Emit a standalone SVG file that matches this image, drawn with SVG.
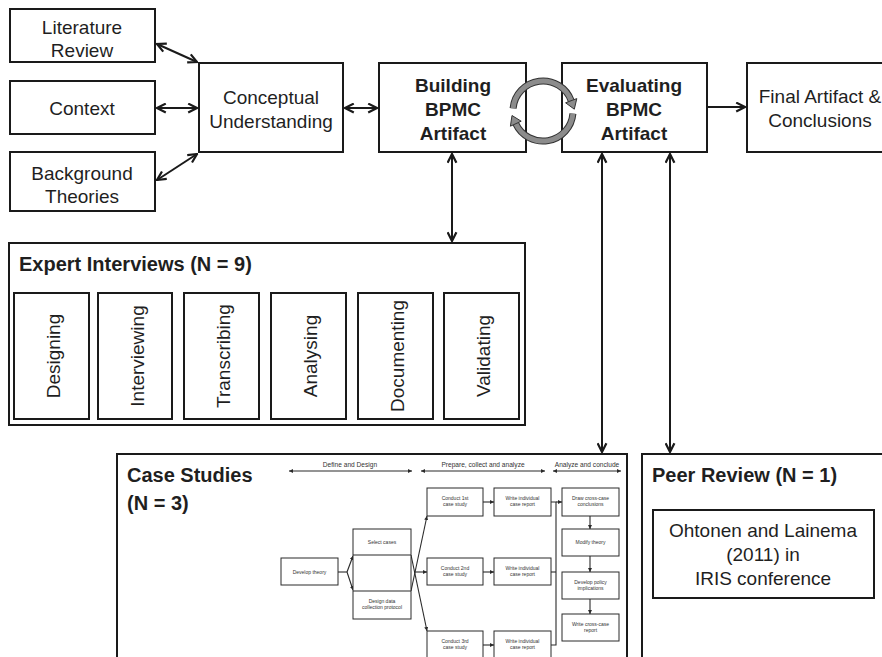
<svg xmlns="http://www.w3.org/2000/svg" width="882" height="657" viewBox="0 0 882 657">
  <defs>
    <style>
      .box { fill: #ffffff; stroke: #1a1a1a; stroke-width: 2; }
      .lbl { font-family: "Liberation Sans", Arial, sans-serif; font-size: 19px; fill: #1f1f1f; text-anchor: middle; }
      .bold { font-weight: bold; }
      .title { font-family: "Liberation Sans", Arial, sans-serif; font-size: 20px; font-weight: bold; fill: #1f1f1f; }
      .conn { fill: none; stroke: #1a1a1a; stroke-width: 2; }
      .sbox { fill: #ffffff; stroke: #2a2a2a; stroke-width: 1; }
      .sline { fill: none; stroke: #2a2a2a; stroke-width: 1.1; }
      .tiny { font-family: "Liberation Sans", Arial, sans-serif; font-size: 5px; fill: #333333; text-anchor: middle; }
      .hdr { font-family: "Liberation Sans", Arial, sans-serif; font-size: 6.6px; fill: #333333; text-anchor: middle; }
      .cyc-edge { fill: none; stroke: #333333; stroke-width: 7; }
      .cyc-fill { fill: none; stroke: #8c8c8c; stroke-width: 5; }
      .cyc-head { fill: #8c8c8c; stroke: #333333; stroke-width: 1; stroke-linejoin: miter; }
    </style>
    <marker id="head" viewBox="0 0 10 10" refX="9" refY="5" markerWidth="11" markerHeight="11" markerUnits="userSpaceOnUse" orient="auto-start-reverse">
      <path d="M1,1 L9,5 L1,9" fill="none" stroke="#1a1a1a" stroke-width="2"/>
    </marker>
    <marker id="shead" viewBox="0 0 6 6" refX="6" refY="3" markerWidth="4" markerHeight="4" markerUnits="userSpaceOnUse" orient="auto-start-reverse">
      <path d="M0,0 L6,3 L0,6 z" fill="#2a2a2a"/>
    </marker>
  </defs>

  <rect width="882" height="657" fill="#ffffff"/>

  <!-- connectors between the main blocks -->
  <g id="connectors">
    <line class="conn" x1="157" y1="44" x2="197" y2="62" marker-start="url(#head)" marker-end="url(#head)"/>
    <line class="conn" x1="157" y1="108" x2="197" y2="108" marker-start="url(#head)" marker-end="url(#head)"/>
    <line class="conn" x1="157" y1="180" x2="197" y2="154" marker-start="url(#head)" marker-end="url(#head)"/>
    <line class="conn" x1="345" y1="108" x2="377" y2="108" marker-start="url(#head)" marker-end="url(#head)"/>
    <line class="conn" x1="708" y1="107" x2="745" y2="107" marker-end="url(#head)"/>
    <line class="conn" x1="452" y1="154" x2="452" y2="241" marker-start="url(#head)" marker-end="url(#head)"/>
    <line class="conn" x1="602" y1="154" x2="602" y2="452" marker-start="url(#head)" marker-end="url(#head)"/>
    <line class="conn" x1="670" y1="154" x2="670" y2="452" marker-start="url(#head)" marker-end="url(#head)"/>
  </g>

  <g id="literature-review">
    <rect class="box" x="10" y="9" width="145" height="53"/>
    <text class="lbl" x="82" y="34">Literature</text>
    <text class="lbl" x="82" y="57">Review</text>
  </g>
  <g id="context">
    <rect class="box" x="10" y="81" width="145" height="53"/>
    <text class="lbl" x="82" y="115">Context</text>
  </g>
  <g id="background-theories">
    <rect class="box" x="10" y="152" width="145" height="59"/>
    <text class="lbl" x="82" y="180">Background</text>
    <text class="lbl" x="82" y="203">Theories</text>
  </g>
  <g id="conceptual-understanding">
    <rect class="box" x="199" y="63" width="144" height="89"/>
    <text class="lbl" x="271" y="104">Conceptual</text>
    <text class="lbl" x="271" y="128">Understanding</text>
  </g>
  <g id="building-artifact">
    <rect class="box" x="379" y="63" width="147" height="89"/>
    <text class="lbl bold" x="453" y="92" font-size="18">Building</text>
    <text class="lbl bold" x="453" y="116" font-size="18">BPMC</text>
    <text class="lbl bold" x="453" y="140" font-size="18">Artifact</text>
  </g>
  <g id="evaluating-artifact">
    <rect class="box" x="562" y="63" width="145" height="89"/>
    <text class="lbl bold" x="634" y="92" font-size="18">Evaluating</text>
    <text class="lbl bold" x="634" y="116" font-size="18">BPMC</text>
    <text class="lbl bold" x="634" y="140" font-size="18">Artifact</text>
  </g>
  <g id="final-artifact">
    <rect class="box" x="747" y="63" width="160" height="89"/>
    <text class="lbl" x="820" y="103">Final Artifact &amp;</text>
    <text class="lbl" x="820" y="127">Conclusions</text>
  </g>

  <!-- build / evaluate cycle -->
  <g id="cycle">
    <path class="cyc-edge" d="M513.1,108.4 A30,30 0 0 1 571.2,100.7"/>
    <path class="cyc-fill" d="M513.1,108.4 A30,30 0 0 1 571.2,100.7"/>
    <polygon class="cyc-head" points="574.3,109.2 576.8,98.6 565.6,102.8"/>
    <path class="cyc-edge" d="M572.9,113.6 A30,30 0 0 1 515.8,123.7"/>
    <path class="cyc-fill" d="M572.9,113.6 A30,30 0 0 1 515.8,123.7"/>
    <polygon class="cyc-head" points="512.0,115.5 510.4,126.2 521.2,121.2"/>
  </g>

  <g id="expert-interviews">
    <rect class="box" x="9" y="243" width="516" height="182"/>
    <text class="title" x="19" y="271">Expert Interviews (N = 9)</text>
    <g id="designing">
      <rect class="box" x="14" y="293" width="75" height="126"/>
      <text class="lbl" transform="translate(60,356) rotate(-90)">Designing</text>
    </g>
    <g id="interviewing">
      <rect class="box" x="98" y="293" width="74" height="126"/>
      <text class="lbl" transform="translate(144,356) rotate(-90)">Interviewing</text>
    </g>
    <g id="transcribing">
      <rect class="box" x="184" y="293" width="75" height="126"/>
      <text class="lbl" transform="translate(230,356) rotate(-90)">Transcribing</text>
    </g>
    <g id="analysing">
      <rect class="box" x="271" y="293" width="75" height="126"/>
      <text class="lbl" transform="translate(317,356) rotate(-90)">Analysing</text>
    </g>
    <g id="documenting">
      <rect class="box" x="358" y="293" width="75" height="126"/>
      <text class="lbl" transform="translate(404,356) rotate(-90)">Documenting</text>
    </g>
    <g id="validating">
      <rect class="box" x="444" y="293" width="75" height="126"/>
      <text class="lbl" transform="translate(490,356) rotate(-90)">Validating</text>
    </g>
  </g>

  <g id="case-studies">
    <rect class="box" x="117" y="454" width="510" height="230"/>
    <text class="title" x="127" y="482">Case Studies</text>
    <text class="title" x="127" y="510">(N = 3)</text>

    <!-- phase headers -->
    <g id="phases">
      <text class="hdr" x="350" y="467">Define and Design</text>
      <line class="sline" x1="289" y1="471" x2="412" y2="471" marker-start="url(#shead)" marker-end="url(#shead)"/>
      <text class="hdr" x="483" y="467">Prepare, collect and analyze</text>
      <line class="sline" x1="421" y1="471" x2="545" y2="471" marker-start="url(#shead)" marker-end="url(#shead)"/>
      <text class="hdr" x="587" y="467">Analyze and conclude</text>
      <line class="sline" x1="553" y1="471" x2="621" y2="471" marker-start="url(#shead)" marker-end="url(#shead)"/>
    </g>

    <!-- case study flow links -->
    <g id="case-connectors">
      <polyline class="sline" points="338,572 347,572"/>
      <line class="sline" x1="347" y1="572" x2="353" y2="556" marker-end="url(#shead)"/>
      <line class="sline" x1="347" y1="572" x2="353" y2="590" marker-end="url(#shead)"/>
      <line class="sline" x1="411" y1="555" x2="427" y2="631" marker-end="url(#shead)"/>
      <line class="sline" x1="411" y1="591" x2="427" y2="516" marker-end="url(#shead)"/>
      <line class="sline" x1="414" y1="572" x2="427" y2="572" marker-end="url(#shead)"/>
      <line class="sline" x1="483" y1="502" x2="494" y2="502" marker-end="url(#shead)"/>
      <line class="sline" x1="483" y1="572" x2="494" y2="572" marker-end="url(#shead)"/>
      <line class="sline" x1="483" y1="645" x2="494" y2="645" marker-end="url(#shead)"/>
      <polyline class="sline" points="551,502 556,502 556,645 551,645"/>
      <line class="sline" x1="551" y1="572" x2="556" y2="572"/>
      <line class="sline" x1="556" y1="502" x2="562" y2="502" marker-end="url(#shead)"/>
      <line class="sline" x1="590" y1="516" x2="590" y2="529" marker-end="url(#shead)"/>
      <line class="sline" x1="590" y1="556" x2="590" y2="572" marker-end="url(#shead)"/>
      <line class="sline" x1="590" y1="599" x2="590" y2="614" marker-end="url(#shead)"/>
    </g>

    <g id="develop-theory">
      <rect class="sbox" x="281" y="558" width="57" height="27"/>
      <text class="tiny" x="309.5" y="573.5">Develop theory</text>
    </g>
    <g id="select-and-design">
      <rect class="sbox" x="353" y="529" width="58" height="90"/>
      <line class="sline" x1="353" y1="555" x2="411" y2="555"/>
      <line class="sline" x1="353" y1="591" x2="411" y2="591"/>
      <text class="tiny" x="382" y="544">Select cases</text>
      <text class="tiny" x="382" y="603">Design data</text>
      <text class="tiny" x="382" y="609">collection protocol</text>
    </g>
    <g id="conduct-1">
      <rect class="sbox" x="427" y="488" width="56" height="28"/>
      <text class="tiny" x="455" y="500">Conduct 1st</text>
      <text class="tiny" x="455" y="506">case study</text>
    </g>
    <g id="conduct-2">
      <rect class="sbox" x="427" y="558" width="56" height="27"/>
      <text class="tiny" x="455" y="570">Conduct 2nd</text>
      <text class="tiny" x="455" y="576">case study</text>
    </g>
    <g id="conduct-3">
      <rect class="sbox" x="427" y="631" width="56" height="28"/>
      <text class="tiny" x="455" y="643">Conduct 3rd</text>
      <text class="tiny" x="455" y="649">case study</text>
    </g>
    <g id="report-1">
      <rect class="sbox" x="494" y="488" width="57" height="28"/>
      <text class="tiny" x="522.5" y="500">Write individual</text>
      <text class="tiny" x="522.5" y="506">case report</text>
    </g>
    <g id="report-2">
      <rect class="sbox" x="494" y="558" width="57" height="27"/>
      <text class="tiny" x="522.5" y="570">Write individual</text>
      <text class="tiny" x="522.5" y="576">case report</text>
    </g>
    <g id="report-3">
      <rect class="sbox" x="494" y="631" width="57" height="28"/>
      <text class="tiny" x="522.5" y="643">Write individual</text>
      <text class="tiny" x="522.5" y="649">case report</text>
    </g>
    <g id="cross-case">
      <rect class="sbox" x="562" y="488" width="57" height="28"/>
      <text class="tiny" x="590.5" y="500">Draw cross-case</text>
      <text class="tiny" x="590.5" y="506">conclusions</text>
    </g>
    <g id="modify-theory">
      <rect class="sbox" x="562" y="529" width="57" height="27"/>
      <text class="tiny" x="590.5" y="544">Modify theory</text>
    </g>
    <g id="policy">
      <rect class="sbox" x="562" y="572" width="57" height="27"/>
      <text class="tiny" x="590.5" y="584">Develop policy</text>
      <text class="tiny" x="590.5" y="590">implications</text>
    </g>
    <g id="cross-case-report">
      <rect class="sbox" x="562" y="614" width="57" height="27"/>
      <text class="tiny" x="590.5" y="626">Write cross-case</text>
      <text class="tiny" x="590.5" y="632">report</text>
    </g>
  </g>

  <g id="peer-review">
    <rect class="box" x="642" y="454" width="260" height="230"/>
    <text class="title" x="652" y="482">Peer Review (N = 1)</text>
    <g id="iris-paper">
      <rect class="box" x="653" y="510" width="221" height="88"/>
      <text class="lbl" x="763" y="537" font-size="18.5">Ohtonen and Lainema</text>
      <text class="lbl" x="763" y="561" font-size="18.5">(2011) in</text>
      <text class="lbl" x="763" y="585" font-size="18.5">IRIS conference</text>
    </g>
  </g>
</svg>
